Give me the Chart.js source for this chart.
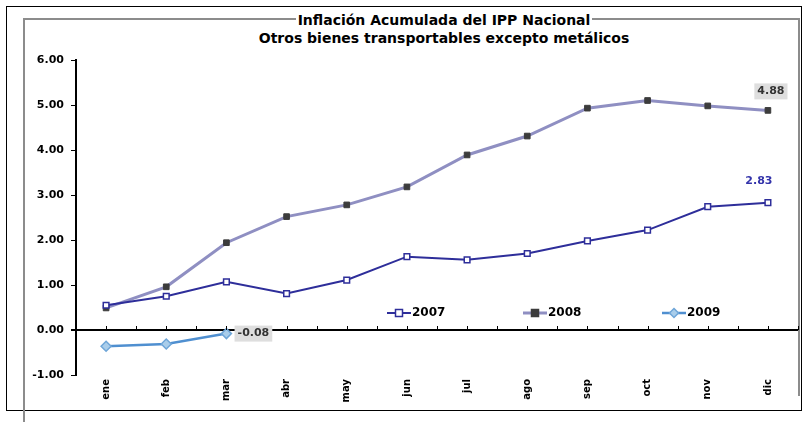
<!DOCTYPE html>
<html>
<head>
<meta charset="utf-8">
<script src="https://cdn.jsdelivr.net/npm/chart.js@4.4.1/dist/chart.umd.min.js"></script>
<style>
  body { margin: 0; background: #fff; }
  #wrap { position: relative; width: 807px; height: 426px; overflow: hidden; }
  #frameOuter { position: absolute; left: 6px; top: 6px; width: 794px; height: 403px; border: 1px solid #000; }
  #frameInner { position: absolute; left: 23px; top: 18px; width: 773px; height: 376px; border-left: 2px solid #8c8c8c; border-top: 2px solid #8c8c8c; border-right: 2px solid #8c8c8c; }
  #frameTail { position: absolute; left: 23px; top: 394px; width: 2px; height: 28px; background: #8c8c8c; }
  #title { position: absolute; left: 0; top: 11px; width: 888px; text-align: center; font: bold 14px "DejaVu Sans", sans-serif; line-height: 18px; color: #000; }
  #title span { background: #fff; padding: 0 2px; }
  canvas { position: absolute; left: 0; top: 0; }
</style>
</head>
<body>
<div id="wrap">
  <div id="frameOuter"></div>
  <div id="frameInner"></div>
  <div id="frameTail"></div>
  <canvas id="grafico" width="807" height="426"></canvas>
  <div id="title"><span>Inflación Acumulada del IPP Nacional</span><br><span>Otros bienes transportables excepto metálicos</span></div>
</div>
<script>
// datos
var meses = ['ene', 'feb', 'mar', 'abr', 'may', 'jun', 'jul', 'ago', 'sep', 'oct', 'nov', 'dic'];
var serie2007 = [0.55, 0.75, 1.07, 0.81, 1.11, 1.63, 1.56, 1.70, 1.98, 2.22, 2.74, 2.83];
var serie2008 = [0.49, 0.96, 1.94, 2.52, 2.78, 3.18, 3.89, 4.31, 4.93, 5.10, 4.98, 4.88];
var serie2009 = [-0.36, -0.31, -0.08];
var nombres = ['2007', '2008', '2009'];

// etiquetas de valor: serie, indice
var etiquetas = [
    { ds: 1, idx: 11, dx: 3, dy: -19, color: '#333', fondo: '#dedede' },
    { ds: 0, idx: 11, dx: -9, dy: -22, color: '#3333aa', fondo: null },
    { ds: 2, idx: 2, dx: 27, dy: 0, color: '#333', fondo: '#dedede' }
];

var fuente = '"DejaVu Sans", sans-serif';

var lineaCero = {
    id: 'lineaCero',
    afterDatasetsDraw: function (chart) {
        var ctx = chart.ctx;
        var x = chart.scales.x, y = chart.scales.y;
        var y0 = y.getPixelForValue(0);
        ctx.save();
        ctx.strokeStyle = '#000';
        ctx.lineWidth = 1;
        for (var i = 0; i < meses.length; i++) {
            var xc = x.getPixelForValue(i);
            var xb = xc + (x.getPixelForValue(1) - x.getPixelForValue(0)) / 2;
            [xc, xb].forEach(function (px) {
                ctx.beginPath();
                ctx.moveTo(Math.round(px) + 0.5, y0);
                ctx.lineTo(Math.round(px) + 0.5, y0 - 4);
                ctx.stroke();
            });
        }
        ctx.restore();
    }
};

var etiquetasValor = {
    id: 'etiquetasValor',
    afterDatasetsDraw: function (chart) {
        var ctx = chart.ctx;
        ctx.save();
        ctx.font = 'bold 11px ' + fuente;
        ctx.textAlign = 'center';
        ctx.textBaseline = 'middle';
        etiquetas.forEach(function (e) {
            var p = chart.getDatasetMeta(e.ds).data[e.idx];
            var v = chart.data.datasets[e.ds].data[e.idx];
            var txt = v.toFixed(2);
            var cx = p.x + e.dx, cy = p.y + e.dy;
            var w = ctx.measureText(txt).width + 6;
            if (e.fondo) {
                ctx.fillStyle = e.fondo;
                ctx.fillRect(cx - w / 2, cy - 8, w, 16);
            }
            ctx.fillStyle = e.color;
            ctx.fillText(txt, cx, cy);
        });
        ctx.restore();
    }
};

// leyenda dentro del area del grafico
var leyenda = {
    id: 'leyendaInterna',
    afterDatasetsDraw: function (chart) {
        var ctx = chart.ctx;
        var xs = [387, 523, 662];
        var yl = 313;
        ctx.save();
        chart.data.datasets.forEach(function (ds, i) {
            var x0 = xs[i];
            ctx.strokeStyle = ds.borderColor;
            ctx.lineWidth = ds.borderWidth;
            ctx.beginPath();
            ctx.moveTo(x0, yl);
            ctx.lineTo(x0 + 24, yl);
            ctx.stroke();
            var mx = x0 + 12;
            ctx.fillStyle = ds.pointBackgroundColor;
            ctx.strokeStyle = ds.pointBorderColor;
            ctx.lineWidth = 1.5;
            ctx.beginPath();
            if (ds.pointStyle === 'rectRot') {
                ctx.moveTo(mx, yl - 4.5); ctx.lineTo(mx + 4.5, yl);
                ctx.lineTo(mx, yl + 4.5); ctx.lineTo(mx - 4.5, yl);
                ctx.closePath();
            } else {
                ctx.rect(mx - 3.5, yl - 3.5, 7, 7);
            }
            ctx.fill();
            ctx.stroke();
            ctx.fillStyle = '#000';
            ctx.font = 'bold 12px ' + fuente;
            ctx.textBaseline = 'middle';
            ctx.fillText(ds.label, x0 + 25, yl);
        });
        ctx.restore();
    }
};

var ctx = document.getElementById('grafico');
new Chart(ctx, {
    type: 'line',
    data: {
        labels: meses,
        datasets: [{
            label: nombres[0],
            data: serie2007,
            borderColor: '#2e2e9a',
            borderWidth: 2,
            pointStyle: 'rect',
            pointRadius: 4,
            pointBackgroundColor: '#ffffff',
            pointBorderColor: '#2e2e9a',
            pointBorderWidth: 1.5,
            tension: 0
        }, {
            label: nombres[1],
            data: serie2008,
            borderColor: '#8f8fc2',
            borderWidth: 3,
            pointStyle: 'rect',
            pointRadius: 4,
            pointBackgroundColor: '#3c3c3c',
            pointBorderColor: '#3c3c3c',
            pointBorderWidth: 1,
            tension: 0
        }, {
            label: nombres[2],
            data: serie2009,
            borderColor: '#4f8fd0',
            borderWidth: 2.5,
            pointStyle: 'rectRot',
            pointRadius: 5,
            pointBackgroundColor: '#a9cdea',
            pointBorderColor: '#6fa6d8',
            pointBorderWidth: 1.5,
            tension: 0
        }]
    },
    options: {
        responsive: false,
        animation: false,
        layout: { padding: { left: 20, right: 9, top: 60, bottom: 10 } },
        plugins: {
            legend: { display: false },
            title: { display: false },
            tooltip: { enabled: false }
        },
        scales: {
            x: {
                offset: true,
                grid: { display: false, drawTicks: false },
                border: { display: false },
                ticks: {
                    minRotation: 90, maxRotation: 90,
                    padding: 4,
                    color: '#000',
                    font: { family: fuente, size: 10, weight: 'bold' }
                },
                afterFit: function (s) { s.height = 41; }
            },
            y: {
                min: -1, max: 6,
                ticks: {
                    stepSize: 1,
                    padding: 7,
                    color: '#000',
                    font: { family: fuente, size: 11, weight: 'bold' },
                    callback: function (v) { return Number(v).toFixed(2); }
                },
                grid: {
                    drawOnChartArea: true,
                    tickLength: 5,
                    tickColor: '#000',
                    lineWidth: function (c) { return c.tick && c.tick.value === 0 ? 2 : 1; },
                    color: function (c) { return c.tick && c.tick.value === 0 ? '#000' : 'rgba(0,0,0,0)'; }
                },
                border: { display: true, color: '#000', width: 2 },
                afterFit: function (s) { s.width = 56; }
            }
        }
    },
    plugins: [lineaCero, etiquetasValor, leyenda]
});
</script>
</body>
</html>
